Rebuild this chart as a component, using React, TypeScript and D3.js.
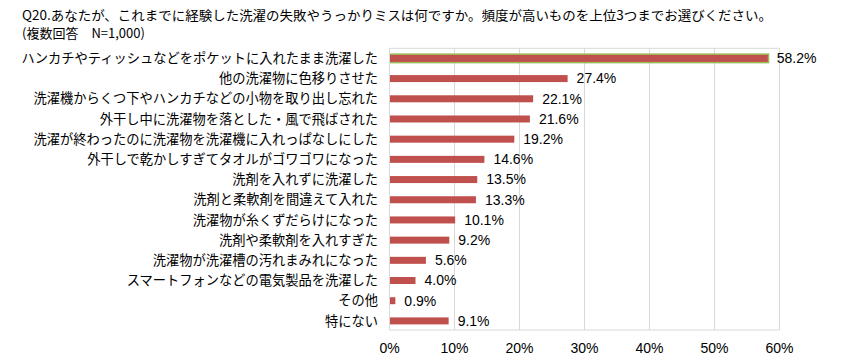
import React from "react";
import * as d3 from "d3";

const titleLine1 = "Q20.あなたが、これまでに経験した洗濯の失敗やうっかりミスは何ですか。頻度が高いものを上位3つまでお選びください。";
const titleLine2 = "(複数回答　N=1,000)";

const categories = [
  "ハンカチやティッシュなどをポケットに入れたまま洗濯した",
  "他の洗濯物に色移りさせた",
  "洗濯機からくつ下やハンカチなどの小物を取り出し忘れた",
  "外干し中に洗濯物を落とした・風で飛ばされた",
  "洗濯が終わったのに洗濯物を洗濯機に入れっぱなしにした",
  "外干しで乾かしすぎてタオルがゴワゴワになった",
  "洗剤を入れずに洗濯した",
  "洗剤と柔軟剤を間違えて入れた",
  "洗濯物が糸くずだらけになった",
  "洗剤や柔軟剤を入れすぎた",
  "洗濯物が洗濯槽の汚れまみれになった",
  "スマートフォンなどの電気製品を洗濯した",
  "その他",
  "特にない",
];
const values = [58.2, 27.4, 22.1, 21.6, 19.2, 14.6, 13.5, 13.3, 10.1, 9.2, 5.6, 4.0, 0.9, 9.1];
const ticks = [0, 10, 20, 30, 40, 50, 60];

export default function App() {
  const W = 841, H = 355;
  const left = 389.5, right = 779.5, top = 48.3, bottom = 331;
  const x = d3.scaleLinear().domain([0, 60]).range([left, right]);
  const y = d3.scaleBand<string>().domain(categories).range([top, bottom]).paddingInner(0.62).paddingOuter(0.31);
  const cjk = "'Noto Sans CJK JP', 'Noto Sans', sans-serif";
  const latin = "'Liberation Sans', Arial, sans-serif";
  const bh = 7;
  return (
    <svg width={W} height={H} style={{ position: "absolute", left: 0, top: 0, background: "#fff" }}>
      <text x={22} y={20} fontFamily={cjk} fontSize={13} fill="#000" textLength={750} lengthAdjust="spacingAndGlyphs">{titleLine1}</text>
      <text x={22} y={38} fontFamily={cjk} fontSize={13} fill="#000">{titleLine2}</text>
      {ticks.map((t) => (
        <line key={t} x1={x(t)} x2={x(t)} y1={top} y2={bottom - 1} stroke="#d9d9d9" strokeWidth={1} />
      ))}
      <line x1={left} x2={right} y1={top} y2={top} stroke="#d9d9d9" />
      <line x1={left} x2={right} y1={bottom - 1} y2={bottom - 1} stroke="#d9d9d9" />
      {categories.map((c, i) => {
        const cy = (y(c) as number) + y.bandwidth() / 2;
        const w = x(values[i]) - x(0);
        return (
          <g key={c}>
            {i === 0 ? (
              <rect x={x(0) + 0.5} y={cy - 5} width={w + 1} height={10} fill="#9BBB59" />
            ) : null}
            <rect x={x(0) + 0.5} y={cy - bh / 2} width={w - 0.5} height={bh} fill="#C0504D" />
            <text x={378} y={cy} dy="0.35em" textAnchor="end" fontFamily={cjk} fontSize={13.25} fill="#000">{c}</text>
            <text x={x(values[i]) + 9} y={cy} dy="0.35em" fontFamily={latin} fontSize={14} fill="#000">{values[i].toFixed(1)}%</text>
          </g>
        );
      })}
      {ticks.map((t) => (
        <text key={"l" + t} x={x(t)} y={348} dy="0.35em" textAnchor="middle" fontFamily={latin} fontSize={14} fill="#000">{t}%</text>
      ))}
    </svg>
  );
}
